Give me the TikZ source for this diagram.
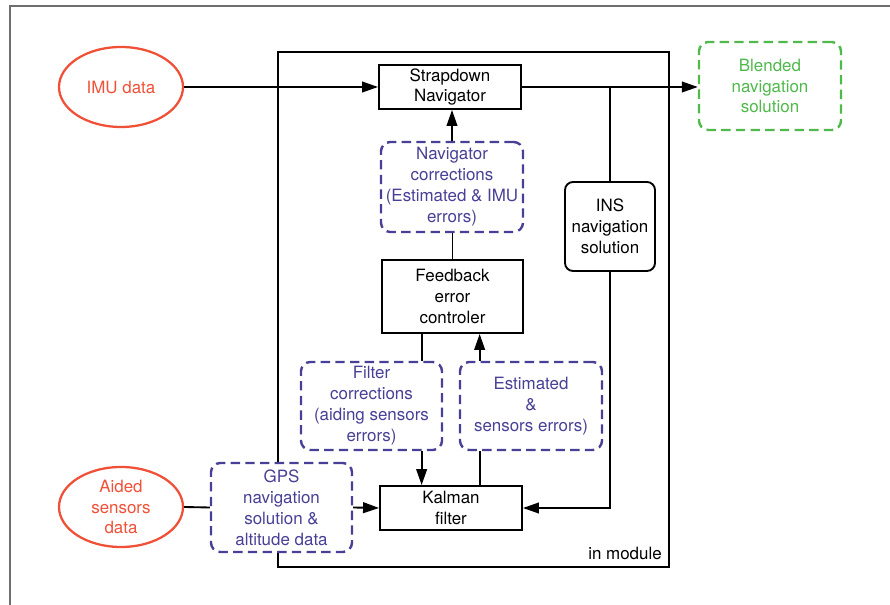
\documentclass[tikz,border=0pt]{standalone}
\usepackage{fontspec}
\setmainfont{TeX Gyre Heros}
\usetikzlibrary{arrows.meta,calc,shapes.geometric}
\definecolor{redo}{RGB}{240,80,55}
\definecolor{greenb}{RGB}{80,185,75}
\definecolor{purp}{RGB}{72,64,150}
\definecolor{framegray}{RGB}{110,110,110}
\tikzset{
  txt/.style={font=\fontsize{12.7}{15.7}\selectfont, align=center, inner sep=0pt},
  srcell/.style={ellipse, draw=redo, line width=1.7pt, text=redo, txt, minimum width=93pt, minimum height=60pt},
  blk/.style={rectangle, draw=black, line width=1.4pt, fill=white, txt},
  dbox/.style={rectangle, rounded corners=7pt, draw=purp, text=purp, dash pattern=on 7pt off 4pt, line width=1.8pt, fill=white, txt},
  gbox/.style={rectangle, rounded corners=7pt, draw=greenb, text=greenb, dash pattern=on 7pt off 4pt, line width=1.8pt, fill=white, txt},
  rbox/.style={rectangle, rounded corners=6pt, draw=black, line width=1.4pt, fill=white, txt},
  conn/.style={draw=black, line width=1.4pt},
  arr/.style={conn, -{Triangle[length=12pt,width=8pt]}},
}
\begin{document}
\begin{tikzpicture}[x=0.75pt,y=-0.75pt]
\useasboundingbox (0,0) rectangle (890,605);
% outer frame
\draw[framegray, line width=1.4pt] (10,605) -- (10,6) -- (890,6);
% module box
\node[draw=black, line width=1.4pt, rectangle, minimum width=293.25pt, minimum height=386.25pt, inner sep=0pt] (module) at (473.5,309.5) {};
\node[txt, anchor=base east] (inmod) at (662,560) {in module};
% sources
\node[srcell] (imu) at (121,87) {IMU data};
\node[srcell] (aided) at (121,507) {Aided\\sensors\\data};
% blocks
\node[blk, minimum width=106.5pt, minimum height=33pt] (strap) at (450,87) {Strapdown\\Navigator};
\node[gbox, minimum width=106.5pt, minimum height=66pt] (blend) at (770,86) {Blended\\navigation\\solution};
\node[rbox, minimum width=67.5pt, minimum height=66.75pt] (ins) at (610,226.5) {INS\\navigation\\solution};
\node[dbox, minimum width=106.5pt, minimum height=67.5pt] (navc) at (452,187) {Navigator\\corrections\\(Estimated \& IMU\\errors)};
\node[blk, minimum width=105.75pt, minimum height=54.75pt] (fb) at (452.5,296.5) {Feedback\\error\\controler};
\node[dbox, minimum width=105.75pt, minimum height=66pt] (filt) at (371.5,406) {Filter\\corrections\\(aiding sensors\\errors)};
\node[dbox, minimum width=106.5pt, minimum height=66pt] (est) at (531,406) {Estimated\\\&\\sensors errors)};
\node[blk, minimum width=106.5pt, minimum height=33pt] (kal) at (451,508) {Kalman\\filter};
\node[dbox, minimum width=105.75pt, minimum height=66.75pt] (gps) at (281.5,507.5) {GPS\\navigation\\solution \&\\altitude data};
% helper coordinates
\coordinate (fbL) at ($(fb.south west)!0.284!(fb.south east)$);
\coordinate (fbR) at ($(fb.south west)!0.69!(fb.south east)$);
\coordinate (jn) at (ins.north |- strap.east);
% connectors
\draw[arr] (imu.east) -- (strap.west);
\draw[arr] (strap.east) -- (strap.east -| blend.west);
\draw[conn] (jn) -- (ins.north);
\draw[arr] (ins.south) |- (kal.east);
\draw[arr] (navc.north) -- (navc.north |- strap.south);
\draw[conn] (fb.north |- navc.south) -- (fb.north);
\draw[conn] (fbL) -- (fbL |- filt.north);
\draw[arr] (fbR |- est.north) -- (fbR);
\draw[arr] (fbL |- filt.south) -- (fbL |- kal.north);
\draw[conn] (fbR |- est.south) -- (fbR |- kal.north);
\draw[conn] (aided.east) -- (gps.west);
\draw[arr] (gps.east) -- (kal.west);
\end{tikzpicture}
\end{document}
